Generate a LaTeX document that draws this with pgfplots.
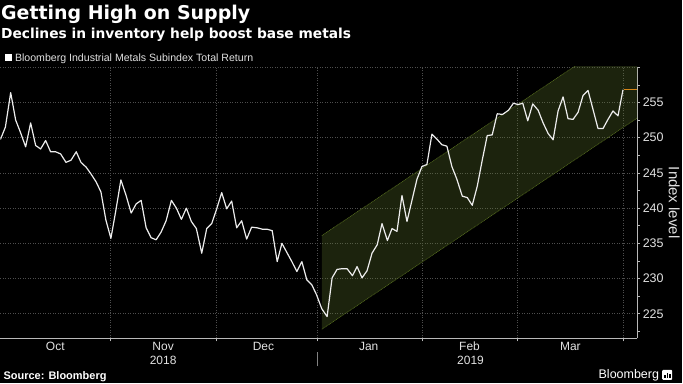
\documentclass[border=0pt]{standalone}
\usepackage{fontspec}
\setmainfont{Liberation Sans}
\newfontfamily\dvs{DejaVu Sans Bold}
\usepackage{pgfplots}
\pgfplotsset{compat=1.18}

\definecolor{bandfill}{RGB}{95,118,45}
\definecolor{bandedge}{RGB}{85,108,30}
\definecolor{gridc}{RGB}{78,78,78}
\definecolor{axisc}{RGB}{185,185,185}
\definecolor{lastc}{RGB}{215,135,25}
\definecolor{txt}{RGB}{225,225,225}

\pgfplotstableread{
x y
0 249.75
5 251.5
10.3 256.4
15.3 252.5
20 250.8
25.3 248.7
30.3 252.1
35.3 248.9
40.3 248.4
45.3 249.6
50.3 248.0
55.3 248.0
60.3 247.7
65.7 246.5
70.7 246.8
76 248.0
80.7 246.5
86 245.8
91 244.8
96 243.7
100.7 242.3
105.7 238.3
110.7 235.7
115.7 239.7
120.7 244.0
125.7 241.9
131 239.3
136 240.6
141 241.1
146 237.2
151 235.8
156 235.5
161 236.6
166 238.2
171.3 241.1
176.3 240.0
181.3 238.4
186.3 240.0
191.3 238.1
196.3 237.1
201.7 233.6
206.7 237.1
211.7 237.8
216.7 239.9
221.7 242.2
226.7 239.9
231.7 241.0
236.7 237.2
241.7 238.2
246.7 235.6
251.7 237.3
257.3 237.2
262.7 237.0
267.3 237.0
272.3 236.8
277.3 232.4
282 235.0
287 233.7
292 232.4
297 231.0
302 232.4
307 229.8
312 229.1
316.7 227.7
322 225.7
327.3 224.6
332.3 230.1
337.3 231.3
342.3 231.4
347.3 231.4
352.7 230.4
357.3 231.7
362.3 230.1
367.3 231.1
372.3 233.6
377.5 234.8
382.3 237.8
387.7 235.4
392.3 237.1
397.3 236.7
402.3 241.8
407.3 238.1
412.3 241.1
417.3 244.1
422.3 245.9
427.3 246.2
432.3 250.5
437.3 249.8
442.3 249.0
447.3 248.8
452.3 245.9
457.3 244.1
462.7 241.7
467.7 241.5
472.7 240.4
477.7 243.1
482.7 246.8
487.7 250.3
492.7 250.4
497.7 253.4
503 253.3
509 253.9
514 254.9
518.7 254.7
523.3 254.9
528.3 252.4
533.3 254.8
538.7 253.9
543.7 252.1
548.7 250.6
553.7 249.7
558.7 253.8
563.7 255.8
568.7 252.7
573.7 252.6
578.7 253.6
583.7 256.0
588.7 256.7
593.7 254.0
598.7 251.3
603.7 251.3
608.7 252.6
613.7 253.8
618.7 253.1
623.7 256.8
}\metals

\begin{document}
\begin{tikzpicture}[x=1pt,y=1pt]
\fill[black] (0,0) rectangle (683,384);
\begin{axis}[
  at={(0pt,45pt)}, anchor=south west, scale only axis,
  width=638pt, height=272.3pt,
  xmin=0, xmax=638, ymin=221.5, ymax=260.1,
  axis x line*=bottom, axis y line*=right,
  axis line style={axisc, line width=0.8pt, -},
  xtick={110,216.5,317.3,422.5,518,624.5},
  xticklabels={},
  xmajorgrids=true, ymajorgrids=true,
  ytick={225,230,...,255},
  extra y ticks={260}, extra y tick labels={},
  extra y tick style={grid=major},
  minor ytick={222.5,227.5,...,257.5},
  tick align=outside, major tick length=3pt, minor tick length=3pt,
  grid style={gridc, dash pattern=on 1pt off 1.5pt, line width=0.6pt},
  tick style={axisc, line width=0.6pt},
  yticklabel style={font=\fontsize{12.5}{12.5}\selectfont, text=txt, xshift=-1pt},
  /pgf/number format/assume math mode=true,
]
\addplot[draw=none, fill=bandfill, fill opacity=0.3] coordinates {(322,222.8) (638,252.8) (638,266.1) (322,236.1)} -- cycle;
\addplot[bandedge, line width=0.6pt, dash pattern=on 1pt off 0.7pt] coordinates {(322,222.8) (638,252.8)};
\addplot[bandedge, line width=0.6pt, dash pattern=on 1pt off 0.7pt] coordinates {(322,236.1) (638,266.1)};
\addplot[white!93!black, line width=1.2pt, line join=round] table[x=x,y=y] {\metals};
\addplot[lastc, line width=0.9pt] coordinates {(624.3,256.8) (638,256.8)};
\end{axis}

% title block
\node[anchor=base west, inner sep=0, text=white, font=\dvs\fontsize{19}{19}\selectfont] at (0.5,364.7) {Getting High on Supply};
\node[anchor=base west, inner sep=0, text=white, font=\dvs\fontsize{13.8}{13.8}\selectfont] at (0.5,345) {Declines in inventory help boost base metals};
\fill[white] (5,323) rectangle (12,330);
\node[anchor=base west, inner sep=0, text=txt, font=\fontsize{10.6}{10.6}\selectfont] at (14.5,322.6) {Bloomberg Industrial Metals Subindex Total Return};

% month and year labels
\foreach \xx/\mm in {55/Oct,163/Nov,263.5/Dec,369/Jan,470/Feb,571/Mar}
  \node[text=txt, font=\fontsize{12}{12}\selectfont] at (\xx,37.3) {\mm};
\node[text=txt, font=\fontsize{12}{12}\selectfont] at (163,22.5) {2018};
\node[text=txt, font=\fontsize{12}{12}\selectfont] at (471,22.5) {2019};
\draw[axisc!70!black, line width=0.6pt] (317.3,17) -- (317.3,31);

% y label
\node[rotate=-90, text=txt, font=\fontsize{15}{15}\selectfont] at (675,181) {Index level};

% footer
\node[anchor=west, inner sep=0, text=white, font=\bfseries\fontsize{11}{11}\selectfont] at (3,7) {Source: Bloomberg};
\node[anchor=east, inner sep=0, text=white, font=\fontsize{12.5}{12.5}\selectfont] at (660,8.5) {Bloomberg};
\fill[white, rounded corners=1pt] (663,3.5) rectangle (673,13.5);
\fill[black] (665,5.5) rectangle (666.5,8);
\fill[black] (667.5,5.5) rectangle (669,10);
\fill[black] (670,5.5) rectangle (671.5,9);
\end{tikzpicture}
\end{document}
